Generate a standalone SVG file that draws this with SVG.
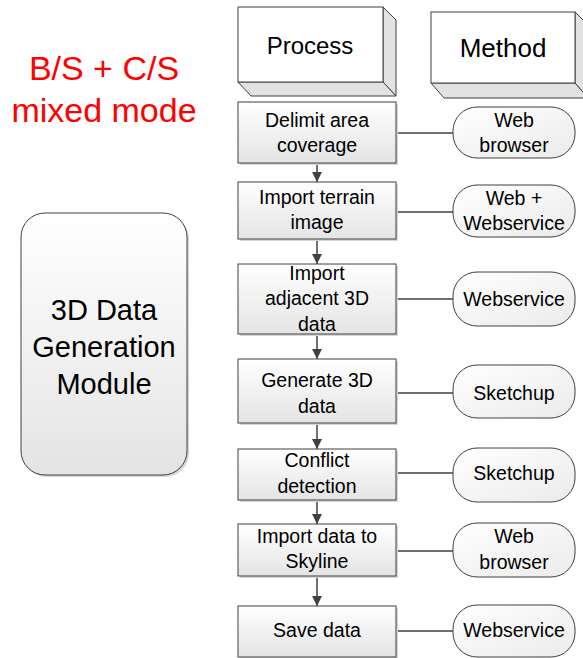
<svg xmlns="http://www.w3.org/2000/svg" width="583" height="658" viewBox="0 0 583 658">
<defs>
<linearGradient id="boxg" x1="0" y1="0" x2="0" y2="1">
<stop offset="0" stop-color="#ffffff"/>
<stop offset="1" stop-color="#e4e4e4"/>
</linearGradient>
<linearGradient id="pillg" x1="0" y1="0" x2="1" y2="1">
<stop offset="0" stop-color="#ffffff"/>
<stop offset="1" stop-color="#ebebeb"/>
</linearGradient>
<marker id="arr" viewBox="0 0 10 10" refX="10" refY="5" markerWidth="10" markerHeight="10" markerUnits="userSpaceOnUse" orient="auto">
<path d="M0,0 L10,5 L0,10 z" fill="#404040"/>
</marker>
</defs>
<style>
.box{fill:url(#boxg);stroke:#404040;stroke-width:1}
.shadow{fill:#d6d6d6;stroke:none}
.pill{fill:url(#pillg);stroke:#404040;stroke-width:1}
.face{fill:#ffffff;stroke:#404040;stroke-width:1}
.side{fill:#e2e2e2;stroke:#404040;stroke-width:1}
.t{font-family:"Liberation Sans",Arial,sans-serif;font-size:19.5px;fill:#000;text-anchor:middle}
.hd{font-family:"Liberation Sans",Arial,sans-serif;font-size:24px;fill:#000;text-anchor:middle}
.red{font-family:"Liberation Sans",Arial,sans-serif;font-size:34px;fill:#ff0000;text-anchor:middle}
.mod{font-family:"Liberation Sans",Arial,sans-serif;font-size:29px;fill:#000;text-anchor:middle}
.ln{stroke:#404040;stroke-width:1.5;fill:none}
</style>

<g id="title">
<text class="red" x="104" y="80">B/S + C/S</text>
<text class="red" x="104" y="122">mixed mode</text>
</g>

<g id="module">
<rect x="23" y="215" width="166" height="262" rx="24" class="shadow"/>
<rect x="21" y="213" width="166" height="262" rx="24" class="box"/>
<text class="mod" x="104" y="320">3D Data</text>
<text class="mod" x="104" y="357">Generation</text>
<text class="mod" x="104" y="394">Module</text>
</g>

<g id="hdr-process">
<polygon class="side" points="383,7 396,20 396,96 383,82"/>
<polygon class="side" points="238,82 383,82 396,96 251,96"/>
<rect class="face" x="238" y="7" width="145" height="75"/>
<text class="hd" x="310" y="54">Process</text>
</g>

<g id="hdr-method">
<polygon class="side" points="575,12 588,25 588,98 575,83"/>
<polygon class="side" points="431,83 575,83 588,98 444,98"/>
<rect class="face" x="431" y="12" width="144" height="71"/>
<text class="hd" x="503" y="57" style="font-size:26px">Method</text>
</g>

<g id="connectors">
<line class="ln" x1="317" y1="163" x2="317" y2="182" marker-end="url(#arr)"/>
<line class="ln" x1="317" y1="239" x2="317" y2="264" marker-end="url(#arr)"/>
<line class="ln" x1="317" y1="334" x2="317" y2="359" marker-end="url(#arr)"/>
<line class="ln" x1="317" y1="423" x2="317" y2="449" marker-end="url(#arr)"/>
<line class="ln" x1="317" y1="500" x2="317" y2="524" marker-end="url(#arr)"/>
<line class="ln" x1="317" y1="576" x2="317" y2="606" marker-end="url(#arr)"/>
<line class="ln" x1="396" y1="133" x2="453" y2="133"/>
<line class="ln" x1="396" y1="212" x2="453" y2="212"/>
<line class="ln" x1="396" y1="299" x2="453" y2="299"/>
<line class="ln" x1="396" y1="393" x2="453" y2="393"/>
<line class="ln" x1="396" y1="473" x2="453" y2="473"/>
<line class="ln" x1="396" y1="551" x2="453" y2="551"/>
<line class="ln" x1="396" y1="631" x2="453" y2="631"/>
</g>

<g id="p1">
<rect class="shadow" x="240" y="104" width="158" height="61"/>
<rect class="box" x="238" y="102" width="158" height="61"/>
<text class="t" x="317" y="127">Delimit area</text>
<text class="t" x="317" y="152">coverage</text>
</g>
<g id="m1">
<rect class="pill" x="453" y="107" width="122" height="51" rx="24"/>
<text class="t" x="514" y="127">Web</text>
<text class="t" x="514" y="152">browser</text>
</g>

<g id="p2">
<rect class="shadow" x="240" y="184" width="158" height="57"/>
<rect class="box" x="238" y="182" width="158" height="57"/>
<text class="t" x="317" y="204">Import terrain</text>
<text class="t" x="317" y="229">image</text>
</g>
<g id="m2">
<rect class="pill" x="453" y="185" width="122" height="52" rx="24"/>
<text class="t" x="514" y="205">Web +</text>
<text class="t" x="514" y="230">Webservice</text>
</g>

<g id="p3">
<rect class="shadow" x="240" y="266" width="158" height="70"/>
<rect class="box" x="238" y="264" width="158" height="70"/>
<text class="t" x="317" y="280">Import</text>
<text class="t" x="317" y="305">adjacent 3D</text>
<text class="t" x="317" y="331">data</text>
</g>
<g id="m3">
<rect class="pill" x="453" y="272" width="122" height="54" rx="24"/>
<text class="t" x="514" y="306">Webservice</text>
</g>

<g id="p4">
<rect class="shadow" x="240" y="361" width="158" height="64"/>
<rect class="box" x="238" y="359" width="158" height="64"/>
<text class="t" x="317" y="387">Generate 3D</text>
<text class="t" x="317" y="413">data</text>
</g>
<g id="m4">
<rect class="pill" x="453" y="365" width="122" height="53" rx="24"/>
<text class="t" x="514" y="400">Sketchup</text>
</g>

<g id="p5">
<rect class="shadow" x="240" y="451" width="158" height="51"/>
<rect class="box" x="238" y="449" width="158" height="51"/>
<text class="t" x="317" y="467">Conflict</text>
<text class="t" x="317" y="493">detection</text>
</g>
<g id="m5">
<rect class="pill" x="453" y="448" width="122" height="54" rx="24"/>
<text class="t" x="514" y="480">Sketchup</text>
</g>

<g id="p6">
<rect class="shadow" x="240" y="526" width="158" height="52"/>
<rect class="box" x="238" y="524" width="158" height="52"/>
<text class="t" x="317" y="543">Import data to</text>
<text class="t" x="317" y="568">Skyline</text>
</g>
<g id="m6">
<rect class="pill" x="453" y="523" width="122" height="54" rx="24"/>
<text class="t" x="514" y="543">Web</text>
<text class="t" x="514" y="569">browser</text>
</g>

<g id="p7">
<rect class="shadow" x="240" y="608" width="158" height="51"/>
<rect class="box" x="238" y="606" width="158" height="51"/>
<text class="t" x="317" y="637">Save data</text>
</g>
<g id="m7">
<rect class="pill" x="453" y="605" width="122" height="52" rx="24"/>
<text class="t" x="514" y="637">Webservice</text>
</g>
</svg>
